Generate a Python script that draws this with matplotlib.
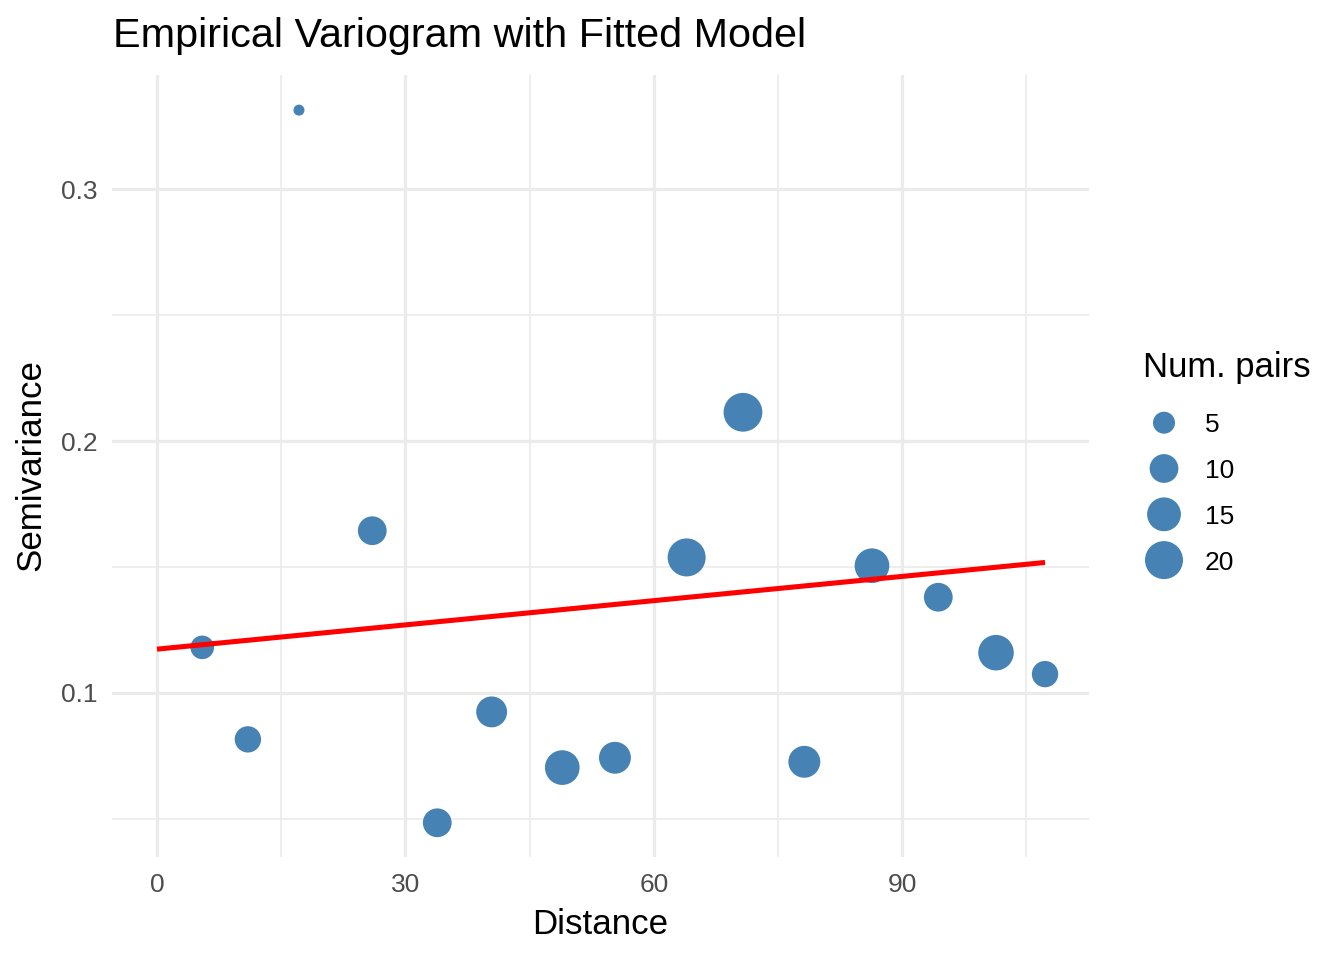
import numpy as np
import matplotlib.pyplot as plt

plt.rcParams['font.family'] = ['Liberation Sans', 'DejaVu Sans']

# empirical variogram bins
distance = [5.47, 10.98, 17.15, 26.0, 33.85, 40.42, 48.95, 55.31,
            63.97, 70.77, 78.18, 86.35, 94.36, 101.33, 107.25]
gamma = [0.1181, 0.0816, 0.3313, 0.1644, 0.0485, 0.0925, 0.0704, 0.0743,
         0.1538, 0.2114, 0.0727, 0.1505, 0.1380, 0.1160, 0.1075]
np_pairs = [6, 8, 1, 10, 10, 12, 16, 13, 20, 21, 13, 16, 10, 17, 8]

# fitted model line (start / end)
model_dist = [0.0, 107.25]
model_gamma = [0.1174, 0.1518]

size_breaks = [5, 10, 15, 20]

DPI = 192
W, H = 1344, 960
STEEL = '#4682B4'


def point_area(n):
    """marker area (pt^2) from number of pairs, sqrt scale like ggplot"""
    d_px = 7.94 + 6.86 * np.sqrt(np.asarray(n, dtype=float) - 0.8)
    return (d_px * 72 / DPI) ** 2


fig = plt.figure(figsize=(W / DPI, H / DPI), dpi=DPI)
ax = fig.add_axes([112 / W, 1 - 857 / H, (1089 - 112) / W, (857 - 75) / H])
ax.set_xlim(-5.43, 112.56)
ax.set_ylim(0.03492, 0.34524)

ax.set_xticks([0, 30, 60, 90])
ax.set_xticks([15, 45, 75, 105], minor=True)
ax.set_yticks([0.1, 0.2, 0.3])
ax.set_yticks([0.05, 0.15, 0.25], minor=True)
ax.set_yticklabels(['0.1', '0.2', '0.3'])
ax.grid(which='major', color='#EBEBEB', linewidth=1.2)
ax.grid(which='minor', color='#EBEBEB', linewidth=0.6)
ax.set_axisbelow(True)
for s in ax.spines.values():
    s.set_visible(False)
ax.tick_params(which='both', length=0)
ax.tick_params(axis='x', labelsize=9.9, labelcolor='#4D4D4D', pad=6)
ax.tick_params(axis='y', labelsize=9.9, labelcolor='#4D4D4D', pad=5.5)

ax.scatter(distance, gamma, s=point_area(np_pairs), color=STEEL,
           linewidths=0, zorder=3)
ax.plot(model_dist, model_gamma, color='red', linewidth=1.9,
        solid_capstyle='butt', zorder=4)

fig.text(113 / W, 1 - 47 / H, 'Empirical Variogram with Fitted Model',
         fontsize=15.5, ha='left', va='baseline')
fig.text(600.5 / W, 1 - 934 / H, 'Distance', fontsize=13.1,
         ha='center', va='baseline')
fig.text(31 / W, 1 - 465 / H, 'Semivariance', fontsize=13.1,
         rotation=90, ha='center', va='center')

# size legend
lax = fig.add_axes([0, 0, 1, 1])
lax.set_xlim(0, W)
lax.set_ylim(H, 0)
lax.axis('off')
lax.text(1143, 377, 'Num. pairs', fontsize=13, ha='left', va='baseline')
key_x, row0, step = 1164, 422.7, 45.8
rows = row0 + step * np.arange(len(size_breaks))
lax.scatter([key_x] * len(size_breaks), rows, s=point_area(size_breaks),
            color=STEEL, linewidths=0)
for r, b in zip(rows, size_breaks):
    lax.text(1205, r + 9.5, str(b), fontsize=9.9, ha='left', va='baseline')

fig.savefig('out.png', dpi=DPI)
